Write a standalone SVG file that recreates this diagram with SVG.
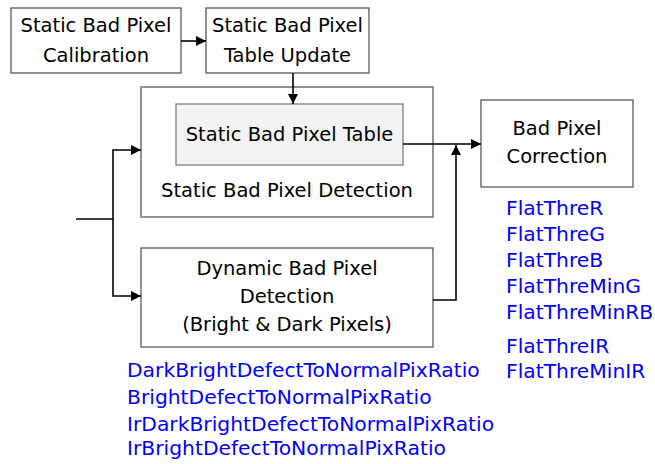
<svg xmlns="http://www.w3.org/2000/svg" width="655" height="464" viewBox="0 0 655 464">
  <defs>
    <marker id="arrow" viewBox="0 0 10 10" refX="10" refY="5" markerWidth="10" markerHeight="10" markerUnits="userSpaceOnUse" orient="auto">
      <path d="M0,0 L10,5 L0,10 Z" fill="#000"/>
    </marker>
  </defs>
  <style>
    .box { fill: #fff; stroke: #595959; stroke-width: 1.3; }
    .inner { fill: #f2f2f2; stroke: #7f7f7f; stroke-width: 1.3; }
    .lbl { font-family: "DejaVu Sans", "Open Sans", sans-serif; font-size: 19.5px; fill: #000; text-anchor: middle; }
    .param { font-family: "DejaVu Sans", "Open Sans", sans-serif; font-size: 20.3px; fill: #0000ff; }
    .wire { fill: none; stroke: #000; stroke-width: 1.6; }
  </style>
  <rect width="655" height="464" fill="#fff"/>

  <g id="calibration">
    <rect class="box" x="11" y="8" width="170" height="65"/>
    <text class="lbl" x="96" y="32">Static Bad Pixel</text>
    <text class="lbl" x="96" y="62">Calibration</text>
  </g>
  <g id="table-update">
    <rect class="box" x="206" y="8" width="163" height="65"/>
    <text class="lbl" x="287.5" y="32">Static Bad Pixel</text>
    <text class="lbl" x="287.5" y="62">Table Update</text>
  </g>
  <g id="static-detection">
    <rect class="box" x="141" y="87" width="292" height="130"/>
    <text class="lbl" x="287" y="197">Static Bad Pixel Detection</text>
  </g>
  <g id="static-table">
    <rect class="inner" x="176" y="104" width="227" height="61"/>
    <text class="lbl" x="289.5" y="141">Static Bad Pixel Table</text>
  </g>
  <g id="dynamic-detection">
    <rect class="box" x="141" y="248" width="292" height="99"/>
    <text class="lbl" x="287" y="275">Dynamic Bad Pixel</text>
    <text class="lbl" x="287" y="303">Detection</text>
    <text class="lbl" x="287" y="331">(Bright &amp; Dark Pixels)</text>
  </g>
  <g id="correction">
    <rect class="box" x="481" y="100" width="152" height="87"/>
    <text class="lbl" x="557" y="135">Bad Pixel</text>
    <text class="lbl" x="557" y="163">Correction</text>
  </g>

  <g id="connectors">
    <path class="wire" d="M181,41 H206" marker-end="url(#arrow)"/>
    <path class="wire" d="M293,73 V104" marker-end="url(#arrow)"/>
    <path class="wire" d="M76,219 H113"/>
    <path class="wire" d="M113,219 V150 H141" marker-end="url(#arrow)"/>
    <path class="wire" d="M113,219 V296 H141" marker-end="url(#arrow)"/>
    <path class="wire" d="M403,144 H481" marker-end="url(#arrow)"/>
    <path class="wire" d="M433,300 H456 V145" marker-end="url(#arrow)"/>
  </g>

  <g id="correction-params">
    <text class="param" x="506" y="215">FlatThreR</text>
    <text class="param" x="506" y="241">FlatThreG</text>
    <text class="param" x="506" y="267">FlatThreB</text>
    <text class="param" x="506" y="293">FlatThreMinG</text>
    <text class="param" x="506" y="319">FlatThreMinRB</text>
    <text class="param" x="506" y="353">FlatThreIR</text>
    <text class="param" x="506" y="378">FlatThreMinIR</text>
  </g>
  <g id="detection-params">
    <text class="param" x="127" y="377">DarkBrightDefectToNormalPixRatio</text>
    <text class="param" x="127" y="404">BrightDefectToNormalPixRatio</text>
    <text class="param" x="127" y="431">IrDarkBrightDefectToNormalPixRatio</text>
    <text class="param" x="127" y="455">IrBrightDefectToNormalPixRatio</text>
  </g>
</svg>
